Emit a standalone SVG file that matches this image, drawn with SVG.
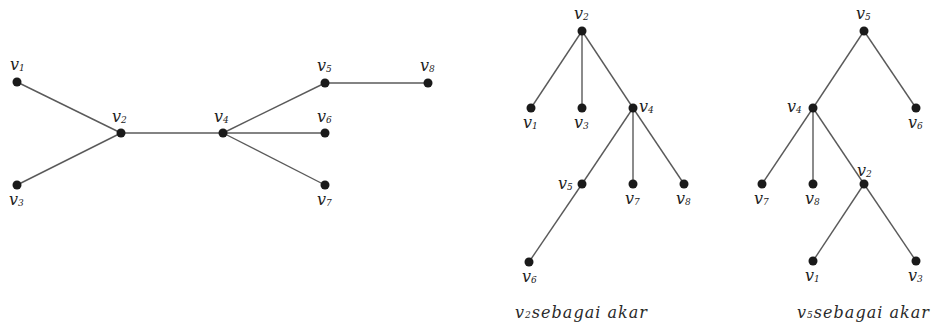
<svg xmlns="http://www.w3.org/2000/svg" width="932" height="323" viewBox="0 0 932 323">
<style>
.e{stroke:#5a5a5a;stroke-width:1.4;fill:none}
.n{fill:#1a1a1a}
.l{font-family:"DejaVu Serif","Liberation Serif",serif;font-style:italic;font-size:16px;fill:#222}
.s{font-size:9px}
.c{font-family:"DejaVu Serif","Liberation Serif",serif;font-style:italic;font-size:16px;fill:#2a2a2a}
</style>
<rect width="932" height="323" fill="#fff"/>
<g id="connectors">
<g id="graph-edges">
<line class="e" x1="17" y1="82" x2="121" y2="133"/>
<line class="e" x1="17" y1="185" x2="121" y2="133"/>
<line class="e" x1="121" y1="133" x2="223" y2="133"/>
<line class="e" x1="223" y1="133" x2="325" y2="83"/>
<line class="e" x1="223" y1="133" x2="325" y2="133"/>
<line class="e" x1="223" y1="133" x2="325" y2="185"/>
<line class="e" x1="325" y1="83" x2="428" y2="83"/>
</g>
<g id="tree1-edges">
<line class="e" x1="582" y1="31" x2="531" y2="108"/>
<line class="e" x1="582" y1="31" x2="582" y2="108"/>
<line class="e" x1="582" y1="31" x2="633" y2="108"/>
<line class="e" x1="633" y1="108" x2="582" y2="184"/>
<line class="e" x1="633" y1="108" x2="633" y2="184"/>
<line class="e" x1="633" y1="108" x2="684" y2="184"/>
<line class="e" x1="582" y1="184" x2="529" y2="262"/>
</g>
<g id="tree2-edges">
<line class="e" x1="864" y1="31" x2="813" y2="108"/>
<line class="e" x1="864" y1="31" x2="916" y2="108"/>
<line class="e" x1="813" y1="108" x2="762" y2="184"/>
<line class="e" x1="813" y1="108" x2="813" y2="184"/>
<line class="e" x1="813" y1="108" x2="864" y2="184"/>
<line class="e" x1="864" y1="184" x2="813" y2="261"/>
<line class="e" x1="864" y1="184" x2="916" y2="261"/>
</g>
</g>
<g id="g-v1"><circle class="n" cx="17" cy="82" r="4.5"/><text class="l" x="10" y="70">v<tspan class="s" dy="1">1</tspan></text></g>
<g id="g-v2"><circle class="n" cx="121" cy="133" r="4.5"/><text class="l" x="112" y="122">v<tspan class="s" dy="1">2</tspan></text></g>
<g id="g-v3"><circle class="n" cx="17" cy="185" r="4.5"/><text class="l" x="9" y="205">v<tspan class="s" dy="1">3</tspan></text></g>
<g id="g-v4"><circle class="n" cx="223" cy="133" r="4.5"/><text class="l" x="214" y="122">v<tspan class="s" dy="1">4</tspan></text></g>
<g id="g-v5"><circle class="n" cx="325" cy="83" r="4.5"/><text class="l" x="317" y="71">v<tspan class="s" dy="1">5</tspan></text></g>
<g id="g-v6"><circle class="n" cx="325" cy="133" r="4.5"/><text class="l" x="317" y="122">v<tspan class="s" dy="1">6</tspan></text></g>
<g id="g-v7"><circle class="n" cx="325" cy="185" r="4.5"/><text class="l" x="317" y="205">v<tspan class="s" dy="1">7</tspan></text></g>
<g id="g-v8"><circle class="n" cx="428" cy="83" r="4.5"/><text class="l" x="420" y="71">v<tspan class="s" dy="1">8</tspan></text></g>

<g id="t1-v2"><circle class="n" cx="582" cy="31" r="4.5"/><text class="l" x="574" y="19">v<tspan class="s" dy="1">2</tspan></text></g>
<g id="t1-v1"><circle class="n" cx="531" cy="108" r="4.5"/><text class="l" x="523" y="128">v<tspan class="s" dy="1">1</tspan></text></g>
<g id="t1-v3"><circle class="n" cx="582" cy="108" r="4.5"/><text class="l" x="574" y="128">v<tspan class="s" dy="1">3</tspan></text></g>
<g id="t1-v4"><circle class="n" cx="633" cy="108" r="4.5"/><text class="l" x="639" y="112">v<tspan class="s" dy="1">4</tspan></text></g>
<g id="t1-v5"><circle class="n" cx="582" cy="184" r="4.5"/><text class="l" x="558" y="189">v<tspan class="s" dy="1">5</tspan></text></g>
<g id="t1-v7"><circle class="n" cx="633" cy="184" r="4.5"/><text class="l" x="625" y="204">v<tspan class="s" dy="1">7</tspan></text></g>
<g id="t1-v8"><circle class="n" cx="684" cy="184" r="4.5"/><text class="l" x="676" y="204">v<tspan class="s" dy="1">8</tspan></text></g>
<g id="t1-v6"><circle class="n" cx="529" cy="262" r="4.5"/><text class="l" x="522" y="282">v<tspan class="s" dy="1">6</tspan></text></g>
<g id="t1-caption"><text class="c" x="515" y="318" textLength="132" lengthAdjust="spacing">v<tspan class="s">2</tspan>sebagai akar</text></g>

<g id="t2-v5"><circle class="n" cx="864" cy="31" r="4.5"/><text class="l" x="856" y="19">v<tspan class="s" dy="1">5</tspan></text></g>
<g id="t2-v4"><circle class="n" cx="813" cy="108" r="4.5"/><text class="l" x="787" y="112">v<tspan class="s" dy="1">4</tspan></text></g>
<g id="t2-v6"><circle class="n" cx="916" cy="108" r="4.5"/><text class="l" x="908" y="128">v<tspan class="s" dy="1">6</tspan></text></g>
<g id="t2-v7"><circle class="n" cx="762" cy="184" r="4.5"/><text class="l" x="754" y="204">v<tspan class="s" dy="1">7</tspan></text></g>
<g id="t2-v8"><circle class="n" cx="813" cy="184" r="4.5"/><text class="l" x="805" y="204">v<tspan class="s" dy="1">8</tspan></text></g>
<g id="t2-v2"><circle class="n" cx="864" cy="184" r="4.5"/><text class="l" x="857" y="176">v<tspan class="s" dy="1">2</tspan></text></g>
<g id="t2-v1"><circle class="n" cx="813" cy="261" r="4.5"/><text class="l" x="805" y="281">v<tspan class="s" dy="1">1</tspan></text></g>
<g id="t2-v3"><circle class="n" cx="916" cy="261" r="4.5"/><text class="l" x="908" y="281">v<tspan class="s" dy="1">3</tspan></text></g>
<g id="t2-caption"><text class="c" x="797" y="318" textLength="132" lengthAdjust="spacing">v<tspan class="s">5</tspan>sebagai akar</text></g>
</svg>
